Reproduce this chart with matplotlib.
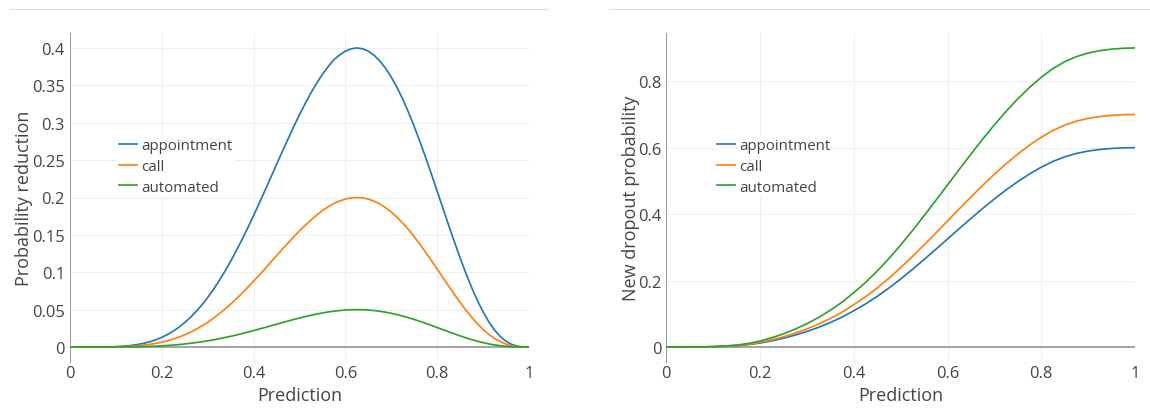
import matplotlib
matplotlib.use("Agg")
import matplotlib.pyplot as plt
from matplotlib.lines import Line2D

# prediction grids (finer one for the peaked reduction curves)
prediction_fine = [i * 0.0125 for i in range(81)]
prediction = [i * 0.025 for i in range(41)]

# probability reduction per intervention
reduction_appointment = [
    0, 0, 0, 0, 0, 0.0001, 0.0001, 0.0003, 0.0006, 0.0010,
    0.0016, 0.0025, 0.0037, 0.0053, 0.0073, 0.0099, 0.0130, 0.0168, 0.0213, 0.0266,
    0.0328, 0.0398, 0.0477, 0.0565, 0.0663, 0.0770, 0.0887, 0.1013, 0.1147, 0.1290,
    0.1440, 0.1597, 0.1759, 0.1926, 0.2096, 0.2269, 0.2442, 0.2614, 0.2783, 0.2948,
    0.3107, 0.3258, 0.3400, 0.3530, 0.3648, 0.3751, 0.3843, 0.3907, 0.3958, 0.3989,
    0.4000, 0.3989, 0.3957, 0.3902, 0.3826, 0.3728, 0.3609, 0.3471, 0.3314, 0.3139,
    0.2949, 0.2746, 0.2532, 0.2312, 0.2085, 0.1856, 0.1629, 0.1406, 0.1191, 0.0987,
    0.0797, 0.0624, 0.0470, 0.0337, 0.0227, 0.0141, 0.0077, 0.0035, 0.0011, 0.0001,
    0,
]
reduction_call = [
    0, 0, 0, 0, 0, 0.0001, 0.0001, 0.0002, 0.0003, 0.0005,
    0.0008, 0.0013, 0.0019, 0.0027, 0.0037, 0.0050, 0.0065, 0.0084, 0.0107, 0.0133,
    0.0164, 0.0199, 0.0239, 0.0283, 0.0332, 0.0385, 0.0444, 0.0507, 0.0574, 0.0645,
    0.0720, 0.0799, 0.0880, 0.0963, 0.1048, 0.1135, 0.1221, 0.1307, 0.1392, 0.1474,
    0.1554, 0.1629, 0.1700, 0.1765, 0.1824, 0.1876, 0.1922, 0.1954, 0.1979, 0.1995,
    0.2000, 0.1995, 0.1979, 0.1951, 0.1913, 0.1864, 0.1805, 0.1736, 0.1657, 0.1570,
    0.1475, 0.1373, 0.1266, 0.1156, 0.1043, 0.0928, 0.0815, 0.0703, 0.0596, 0.0494,
    0.0399, 0.0312, 0.0235, 0.0169, 0.0114, 0.0071, 0.0039, 0.0018, 0.0006, 0.0001,
    0,
]
reduction_automated = [
    0, 0, 0, 0, 0, 0, 0, 0, 0.0001, 0.0001,
    0.0002, 0.0003, 0.0005, 0.0007, 0.0009, 0.0012, 0.0016, 0.0021, 0.0027, 0.0033,
    0.0041, 0.0050, 0.0060, 0.0071, 0.0083, 0.0096, 0.0111, 0.0127, 0.0143, 0.0161,
    0.0180, 0.0200, 0.0220, 0.0241, 0.0262, 0.0284, 0.0305, 0.0327, 0.0348, 0.0369,
    0.0388, 0.0407, 0.0425, 0.0441, 0.0456, 0.0469, 0.0480, 0.0488, 0.0495, 0.0499,
    0.0500, 0.0499, 0.0495, 0.0488, 0.0478, 0.0466, 0.0451, 0.0434, 0.0414, 0.0392,
    0.0369, 0.0343, 0.0317, 0.0289, 0.0261, 0.0232, 0.0204, 0.0176, 0.0149, 0.0123,
    0.0100, 0.0078, 0.0059, 0.0042, 0.0028, 0.0018, 0.0010, 0.0004, 0.0001, 0,
    0,
]

# dropout probability after each intervention
dropout_appointment = [
    0, 0, 0.0001, 0.0003, 0.0009, 0.0021, 0.0039, 0.0072, 0.0120, 0.0186,
    0.0264, 0.0360, 0.0468, 0.0594, 0.0738, 0.0900, 0.1092, 0.1296, 0.1524, 0.1776,
    0.2046, 0.2334, 0.2634, 0.2940, 0.3252, 0.3564, 0.3870, 0.4170, 0.4458, 0.4728,
    0.4980, 0.5208, 0.5412, 0.5586, 0.5724, 0.5826, 0.5898, 0.5946, 0.5976, 0.5994, 0.6,
]
dropout_call = [
    0, 0, 0.0001, 0.0004, 0.0011, 0.0025, 0.0046, 0.0084, 0.0140, 0.0217,
    0.0308, 0.0420, 0.0546, 0.0693, 0.0861, 0.1050, 0.1274, 0.1512, 0.1778, 0.2072,
    0.2387, 0.2723, 0.3073, 0.3430, 0.3794, 0.4158, 0.4515, 0.4865, 0.5201, 0.5516,
    0.5810, 0.6076, 0.6314, 0.6517, 0.6678, 0.6797, 0.6881, 0.6937, 0.6972, 0.6993, 0.7,
]
dropout_automated = [
    0, 0, 0.0001, 0.0005, 0.0014, 0.0032, 0.0059, 0.0108, 0.0180, 0.0279,
    0.0396, 0.0540, 0.0702, 0.0891, 0.1107, 0.1350, 0.1638, 0.1944, 0.2286, 0.2664,
    0.3069, 0.3501, 0.3951, 0.4410, 0.4878, 0.5346, 0.5805, 0.6255, 0.6687, 0.7092,
    0.7470, 0.7812, 0.8118, 0.8379, 0.8586, 0.8739, 0.8847, 0.8919, 0.8964, 0.8991, 0.9,
]

labels = ["appointment", "call", "automated"]
colors = ["#1f77b4", "#ff7f0e", "#2ca02c"]

x_ticks = [0, 0.2, 0.4, 0.6, 0.8, 1]
x_ticklabels = ["0", "0.2", "0.4", "0.6", "0.8", "1"]
left_yticks = [0, 0.05, 0.1, 0.15, 0.2, 0.25, 0.3, 0.35, 0.4]
left_yticklabels = ["0", "0.05", "0.1", "0.15", "0.2", "0.25", "0.3", "0.35", "0.4"]
right_yticks = [0, 0.2, 0.4, 0.6, 0.8]
right_yticklabels = ["0", "0.2", "0.4", "0.6", "0.8"]

PX = 0.72  # points per pixel at dpi 100
TEXT = "#444444"
plt.rcParams["font.family"] = ["Open Sans", "DejaVu Sans"]

W, H = 1150, 410
fig = plt.figure(figsize=(W / 100, H / 100), dpi=100)


def panel(rect, xs, series, ylim, yticks, yticklabels, ylabel, ylabel_x, legend_x):
    x0, y_top, x1, y_bot = rect
    ax = fig.add_axes([x0 / W, 1 - y_bot / H, (x1 - x0) / W, (y_bot - y_top) / H])
    for ys, lab, col in zip(series, labels, colors):
        ax.plot(xs, ys, color=col, lw=1.7 * PX, label=lab, zorder=3)
    ax.axhline(0, color="#a5a5a5", lw=2 * PX, zorder=2)
    ax.set_xlim(0, 1)
    ax.set_ylim(*ylim)
    ax.set_xticks(x_ticks, x_ticklabels)
    ax.set_yticks(yticks, yticklabels)
    ax.grid(True, color="#eeeeee", lw=1 * PX, zorder=0)
    ax.set_axisbelow(True)
    ax.tick_params(length=0, labelsize=16.5 * PX, colors=TEXT)
    ax.tick_params(axis="x", pad=3 * PX)
    ax.tick_params(axis="y", pad=5 * PX)
    for side in ["top", "right", "bottom"]:
        ax.spines[side].set_visible(False)
    ax.spines["left"].set_color("#999999")
    ax.spines["left"].set_linewidth(1 * PX)
    ax.set_xlabel("Prediction", fontsize=18 * PX, color=TEXT, va="center")
    ax.xaxis.set_label_coords(0.5, -(396 - y_bot) / (y_bot - y_top))
    ax.set_ylabel(ylabel, fontsize=18 * PX, color=TEXT, va="center")
    ax.yaxis.set_label_coords((ylabel_x - x0) / (x1 - x0), 0.5)
    leg = ax.legend(
        loc="upper left",
        bbox_to_anchor=((legend_x - x0) / (x1 - x0), 1 - (137 - y_top) / (y_bot - y_top)),
        fontsize=15 * PX, frameon=True, fancybox=False, framealpha=1,
        handlelength=1.2, handletextpad=0.25, labelspacing=0.38,
        borderpad=0.15, borderaxespad=0,
    )
    leg.get_frame().set_edgecolor("none")
    leg.get_frame().set_facecolor("white")
    for t in leg.get_texts():
        t.set_color(TEXT)
    return ax


panel((70, 34, 529, 363), prediction_fine,
      [reduction_appointment, reduction_call, reduction_automated],
      (-0.02, 0.42), left_yticks, left_yticklabels,
      "Probability reduction", 24, 117)
panel((666.3, 34, 1135, 363), prediction,
      [dropout_appointment, dropout_call, dropout_automated],
      (-0.045, 0.945), right_yticks, right_yticklabels,
      "New dropout probability", 631, 715)

# thin rules above each panel
fig.add_artist(Line2D([10 / W, 548 / W], [1 - 9.5 / H] * 2, color="#dddddd", lw=1 * PX))
fig.add_artist(Line2D([609 / W, 1150 / W], [1 - 9.5 / H] * 2, color="#dddddd", lw=1 * PX))

fig.savefig("out.png", dpi=100, facecolor="white")
